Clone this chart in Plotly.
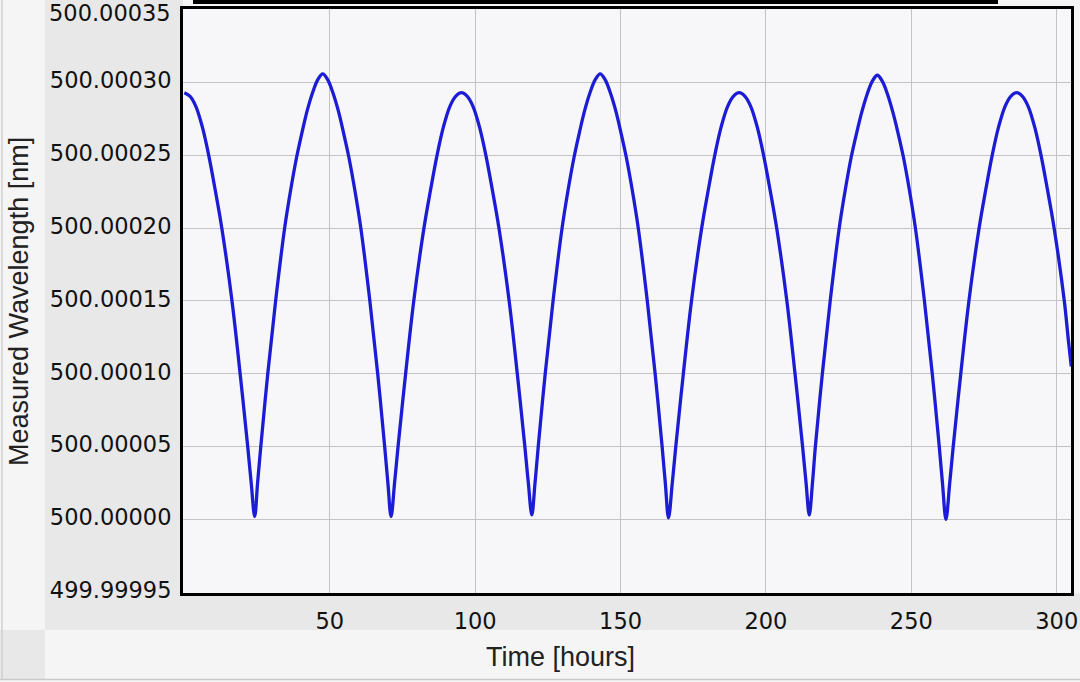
import plotly.graph_objects as go

# ---- data (time in hours, wavelength in nm) ----
TIME_HOURS = [
    0.0, 2.0, 4.0, 6.2, 8.4, 10.6, 12.9, 16.4, 19.2, 21.8, 23.0, 24.2,
    25.2, 26.3, 28.7, 31.4, 34.5, 36.6, 38.6, 40.5, 42.3, 44.1, 45.9, 47.6,
    49.3, 51.1, 52.9, 54.7, 56.6, 58.6, 60.7, 63.8, 66.5, 68.9, 70.0, 71.1,
    72.3, 73.5, 76.1, 78.9, 82.4, 84.7, 86.9, 89.1, 91.3, 93.3, 95.3,
    97.3, 99.3, 101.5, 103.7, 105.9, 108.2, 111.7, 114.5, 117.1, 118.3, 119.5,
    120.6, 121.7, 124.1, 126.8, 129.9, 132.0, 134.0, 135.9, 137.7, 139.5, 141.3, 143.0,
    144.7, 146.5, 148.3, 150.1, 152.0, 154.0, 156.1, 159.2, 161.9, 164.3, 165.4, 166.5,
    167.8, 169.0, 171.6, 174.4, 177.9, 180.2, 182.4, 184.6, 186.8, 188.8, 190.8,
    192.8, 194.8, 197.0, 199.2, 201.4, 203.7, 207.2, 210.0, 212.6, 213.8, 214.9,
    216.0, 217.0, 219.4, 222.1, 225.2, 227.3, 229.3, 231.2, 233.0, 234.8, 236.6, 238.3,
    240.0, 241.8, 243.6, 245.4, 247.3, 249.3, 251.4, 254.5, 257.2, 259.6, 260.7, 261.9,
    263.2, 264.4, 267.0, 269.8, 273.3, 275.6, 277.8, 280.0, 282.2, 284.2, 286.2,
    288.2, 290.2, 292.4, 294.6, 296.8, 299.1, 302.6, 304.0, 305.0,
]
WAVELENGTH_NM = [
    500.0002930, 500.0002905, 500.0002835, 500.0002695, 500.0002500, 500.0002265, 500.0002000, 500.0001500, 500.0001000, 500.0000500, 500.0000250, 500.0000020,
    500.0000250, 500.0000500, 500.0001000, 500.0001500, 500.0002000, 500.0002265, 500.0002485, 500.0002660, 500.0002810, 500.0002930, 500.0003020, 500.0003060,
    500.0003020, 500.0002930, 500.0002810, 500.0002660, 500.0002485, 500.0002265, 500.0002000, 500.0001500, 500.0001000, 500.0000500, 500.0000250, 500.0000020,
    500.0000250, 500.0000500, 500.0001000, 500.0001500, 500.0002000, 500.0002265, 500.0002500, 500.0002695, 500.0002835, 500.0002905, 500.0002930,
    500.0002905, 500.0002835, 500.0002695, 500.0002500, 500.0002265, 500.0002000, 500.0001500, 500.0001000, 500.0000500, 500.0000250, 500.0000030,
    500.0000250, 500.0000500, 500.0001000, 500.0001500, 500.0002000, 500.0002265, 500.0002485, 500.0002660, 500.0002810, 500.0002930, 500.0003020, 500.0003060,
    500.0003020, 500.0002930, 500.0002810, 500.0002660, 500.0002485, 500.0002265, 500.0002000, 500.0001500, 500.0001000, 500.0000500, 500.0000250, 500.0000010,
    500.0000250, 500.0000500, 500.0001000, 500.0001500, 500.0002000, 500.0002265, 500.0002500, 500.0002695, 500.0002835, 500.0002905, 500.0002930,
    500.0002905, 500.0002835, 500.0002695, 500.0002500, 500.0002265, 500.0002000, 500.0001500, 500.0001000, 500.0000500, 500.0000250, 500.0000030,
    500.0000250, 500.0000500, 500.0001000, 500.0001500, 500.0002000, 500.0002265, 500.0002485, 500.0002655, 500.0002800, 500.0002920, 500.0003010, 500.0003050,
    500.0003010, 500.0002920, 500.0002800, 500.0002655, 500.0002485, 500.0002265, 500.0002000, 500.0001500, 500.0001000, 500.0000500, 500.0000250, 500.0000000,
    500.0000250, 500.0000500, 500.0001000, 500.0001500, 500.0002000, 500.0002265, 500.0002500, 500.0002695, 500.0002835, 500.0002905, 500.0002930,
    500.0002905, 500.0002835, 500.0002695, 500.0002500, 500.0002265, 500.0002000, 500.0001500, 500.0001230, 500.0001050,
]
X_TICK_LABELS = ["50", "100", "150", "200", "250", "300"]
Y_TICK_LABELS = ["499.99995", "500.00000", "500.00005", "500.00010", "500.00015",
                 "500.00020", "500.00025", "500.00030", "500.00035"]
X_TITLE = "Time [hours]"
Y_TITLE = "Measured Wavelength [nm]"

# ---- layout geometry (pixels) ----
W, H = 1080, 682
L, R, T, B = 183, 9, 9, 89
PW, PH = W - L - R, H - T - B


def px(x):
    return (x - L) / PW


def py(y):
    return (H - B - y) / PH


fig = go.Figure()
fig.add_trace(go.Scatter(
    x=TIME_HOURS, y=WAVELENGTH_NM, mode="lines",
    line=dict(color="rgb(28,28,212)", width=3.3, shape="spline", smoothing=1.0),
    hoverinfo="x+y", showlegend=False,
))

label_bg = "#e8e8e8"
shapes = [
    dict(type="rect", xref="paper", yref="paper", x0=px(45), x1=px(L), y0=py(630), y1=py(-2),
         fillcolor=label_bg, line=dict(width=0), layer="below"),
    dict(type="rect", xref="paper", yref="paper", x0=px(L), x1=px(W + 2), y0=py(630), y1=py(H - B),
         fillcolor=label_bg, line=dict(width=0), layer="below"),
    dict(type="rect", xref="paper", yref="paper", x0=px(0), x1=px(45), y0=py(679), y1=py(630),
         fillcolor=label_bg, line=dict(width=0), layer="below"),
    dict(type="line", xref="paper", yref="paper", x0=px(0), x1=px(W), y0=py(679.5), y1=py(679.5),
         line=dict(color="#c9c9c9", width=1.5), layer="below"),
    dict(type="line", xref="paper", yref="paper", x0=px(2), x1=px(2), y0=py(0), y1=py(679.5),
         line=dict(color="#d0d0d0", width=1.5), layer="below"),
    # cropped black bar along the top edge
    dict(type="rect", xref="paper", yref="paper", x0=px(193), x1=px(998), y0=py(4), y1=py(-2),
         fillcolor="#000000", line=dict(width=0), layer="above"),
]

tick_font = dict(family="DejaVu Sans, Verdana, sans-serif", size=22.5, color="#111111")
title_font = dict(family="Liberation Sans, Arial, sans-serif", size=27, color="#222222")

# the topmost y label sits at the very top edge: place it as an annotation so it stays inside the page
y_ticktext = Y_TICK_LABELS[:-1] + [""]

fig.update_layout(
    width=W, height=H, autosize=False,
    margin=dict(l=L, r=R, t=T, b=B, pad=0, autoexpand=False),
    paper_bgcolor="#f5f5f5", plot_bgcolor="#f7f7f9",
    font=tick_font,
    shapes=shapes,
    annotations=[
        dict(text=Y_TICK_LABELS[-1], xref="paper", yref="paper", x=px(172.5), y=py(12.5),
             xanchor="right", yanchor="middle", showarrow=False, font=tick_font),
        dict(text=X_TITLE, xref="paper", yref="paper", x=px(560), y=py(657),
             xanchor="center", yanchor="middle", showarrow=False, font=title_font),
        dict(text=Y_TITLE, xref="paper", yref="paper", x=px(19), y=py(302),
             xanchor="center", yanchor="middle", showarrow=False, textangle=-90, font=title_font),
    ],
)

fig.update_xaxes(
    range=[-0.45, 304.9], automargin=False,
    tickvals=[float(v) for v in X_TICK_LABELS], ticktext=X_TICK_LABELS,
    showgrid=True, gridcolor="#c4c4c4", gridwidth=1.2, zeroline=False,
    showline=True, mirror=True, linecolor="#000000", linewidth=3,
    ticks="", ticklabelstandoff=6, ticklabeloverflow="allow",
)
fig.update_yaxes(
    range=[499.9999494, 500.0003505], automargin=False,
    tickvals=[float(v) for v in Y_TICK_LABELS], ticktext=y_ticktext,
    showgrid=True, gridcolor="#c4c4c4", gridwidth=1.2, zeroline=False,
    showline=True, mirror=True, linecolor="#000000", linewidth=3,
    ticks="", ticklabelstandoff=4, ticklabelshift=-2, ticklabeloverflow="allow",
)

fig.write_html(
    "out.html",
    config={"displayModeBar": False},
    post_script="document.body.style.margin='0';document.body.style.overflow='hidden';",
)
